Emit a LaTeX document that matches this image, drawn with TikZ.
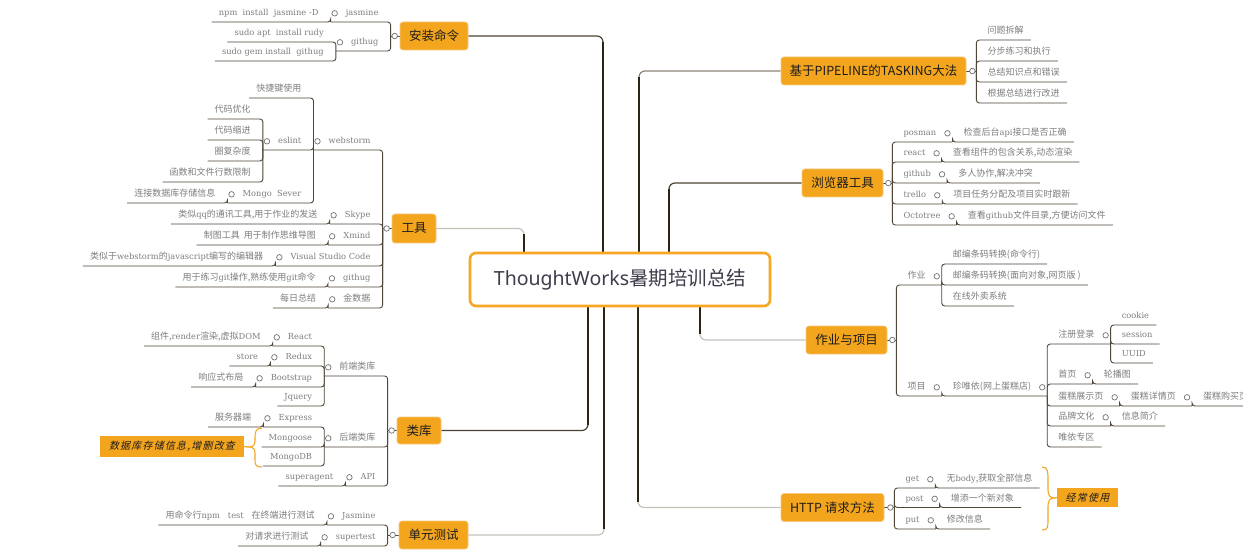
\documentclass[tikz,border=0pt]{standalone}
\usepackage{fontspec}
\setmainfont{DejaVu Serif}
\newfontfamily\cjk{Noto Sans CJK SC}
\newfontfamily\cjkit[FakeSlant=0.22,LetterSpace=12]{Noto Sans CJK SC}
\newfontfamily\latsans{Noto Sans}
\definecolor{orng}{HTML}{F4A51E}
\definecolor{orngedge}{HTML}{F9C77A}
\definecolor{orngline}{HTML}{F5A623}
\definecolor{trunkc}{HTML}{2B2417}
\definecolor{darkh}{HTML}{4B4434}
\definecolor{midh}{HTML}{8B8577}
\definecolor{lighth}{HTML}{C6C2BC}
\definecolor{subline}{HTML}{4E4637}
\definecolor{subtext}{HTML}{7E7E7E}
\definecolor{ctext}{HTML}{3D3D4C}
\definecolor{ttext}{HTML}{1C1C1C}
\pgfdeclarelayer{bg}
\pgfsetlayers{bg,main}
\newcommand\zh[1]{{\cjk\fontsize{9}{10}\selectfont #1}}
\newcommand\Lc[2]{\draw[sconn] (#1) |- (#2.south west);}
\newcommand\Rc[2]{\draw[sconn] (#1) |- (#2.south east);}
\newcommand\lknob[1]{\node[knob] (k-#1) at ([xshift=4pt]#1.west) {};}
\newcommand\rknob[1]{\node[knob] (k-#1) at ([xshift=-5pt]#1.east) {};}
\tikzset{
  subt/.style={font=\fontsize{8.3}{10}\selectfont, text=subtext, inner xsep=0pt, inner ysep=3.5pt, text height=7.5pt, text depth=2.5pt},
  lleaf/.style={subt, anchor=south east, execute at begin node={\hspace*{7pt}}, execute at end node={\hspace*{12pt}}},
  lint/.style={subt, anchor=south east, execute at begin node={\hspace*{15pt}}, execute at end node={\hspace*{12pt}}},
  rleaf/.style={subt, anchor=south west, execute at begin node={\hspace*{11pt}}, execute at end node={\hspace*{7pt}}},
  rint/.style={subt, anchor=south west, execute at begin node={\hspace*{11pt}}, execute at end node={\hspace*{16pt}}},
  topic/.style={fill=orng, draw=orngedge, line width=0.7pt, rounded corners=3pt, text=ttext, font=\cjk\fontsize{12.5}{14}\selectfont, minimum height=28pt, inner sep=0pt},
  centre/.style={fill=white, draw=orngline, line width=2.6pt, rounded corners=6pt, text=ctext, font=\fontsize{19.5}{22}\selectfont, minimum width=300pt, minimum height=53pt, inner sep=0pt},
  summ/.style={fill=orng, text=ttext, font=\cjkit\fontsize{10}{12}\selectfont, inner sep=0pt},
  knob/.style={circle, draw=black!55, fill=white, line width=0.7pt, minimum size=5.5pt, inner sep=0pt},
  sconn/.style={draw=subline, line width=0.9pt, rounded corners=3pt},
  hconn/.style={line width=1.2pt, rounded corners=6pt},
  trunk/.style={draw=trunkc, line width=2.6pt, shorten >=6pt},
  bracec/.style={draw=orngline, line width=1.1pt},
}
\begin{document}
\begin{tikzpicture}[x=1pt,y=-1pt]
\useasboundingbox (0,0) rectangle (1243,556);
\begin{pgfonlayer}{bg}
\fill[white] (0,0) rectangle (1243,556);
\end{pgfonlayer}

% centre
\node[centre] (c) at (620,279.5) {{\latsans ThoughtWorks}{\cjk 暑期培训总结}};

% ===== 安装命令 =====
\node[topic, minimum width=68pt] (az) at (434,36) {安装命令};
\coordinate (azJ) at ([xshift=-9pt]az.west);
\node[lint] (jas) at (azJ |- 0,22) {jasmine};
\node[lleaf] (jas1) at (jas.south west) {npm\ \ install\ \ jasmine -D};
\node[lint] (gha) at (azJ |- 0,51) {githug};
\node[lleaf] (gha1) at (gha.south west |- 0,42) {sudo apt\ \ install rudy};
\node[lleaf] (gha2) at (gha.south west |- 0,61) {sudo gem install\ \ githug};

% ===== 工具 =====
\node[topic, minimum width=44pt, minimum height=29pt] (gj) at (414,228.5) {工具};
\coordinate (gjJ) at ([xshift=-9pt]gj.west);
\node[lint] (ws) at (gjJ |- 0,150) {webstorm};
\node[lleaf] (kj) at (ws.south west |- 0,98) {\zh{快捷键使用}};
\node[lint] (es) at (ws.south west |- 0,150) {eslint};
\node[lleaf] (es1) at (es.south west |- 0,119) {\zh{代码优化}};
\node[lleaf] (es2) at (es.south west |- 0,140) {\zh{代码缩进}};
\node[lleaf] (es3) at (es.south west |- 0,161) {\zh{圈复杂度}};
\node[lleaf] (es4) at (es.south west |- 0,182) {\zh{函数和文件行数限制}};
\node[lint] (mg) at (ws.south west |- 0,203) {Mongo\ \ Sever};
\node[lleaf] (mg1) at (mg.south west) {\zh{连接数据库存储信息}};
\node[lint] (sk) at (gjJ |- 0,224) {Skype};
\node[lleaf] (sk1) at (sk.south west) {\zh{类似}qq\zh{的通讯工具,用于作业的发送}};
\node[lint] (xm) at (gjJ |- 0,245) {Xmind};
\node[lleaf] (xm1) at (xm.south west) {\zh{制图工具\ \ 用于制作思维导图}};
\node[lint] (vs) at (gjJ |- 0,266) {Visual Studio Code};
\node[lleaf] (vs1) at (vs.south west) {\zh{类似于}webstorm\zh{的}javascript\zh{编写的编辑器}};
\node[lint] (ghb) at (gjJ |- 0,287) {githug};
\node[lleaf] (ghb1) at (ghb.south west) {\zh{用于练习}git\zh{操作,熟练使用}git\zh{命令}};
\node[lint] (jsj) at (gjJ |- 0,308) {\zh{金数据}};
\node[lleaf] (jsj1) at (jsj.south west) {\zh{每日总结}};

% ===== 类库 =====
\node[topic, minimum width=44pt, minimum height=27pt] (lk) at (419,430.5) {类库};
\coordinate (lkJ) at ([xshift=-9pt]lk.west);
\node[lint] (qd) at (lkJ |- 0,376) {\zh{前端类库}};
\node[lint] (re) at (qd.south west |- 0,346) {React};
\node[lleaf] (re1) at (re.south west) {\zh{组件,}render\zh{渲染,虚拟}DOM};
\node[lint] (rd) at (qd.south west |- 0,366) {Redux};
\node[lleaf] (rd1) at (rd.south west) {store};
\node[lint] (bs) at (qd.south west |- 0,387) {Bootstrap};
\node[lleaf] (bs1) at (bs.south west) {\zh{响应式布局}};
\node[lleaf] (jq) at (qd.south west |- 0,406) {Jquery};
\node[lint] (hd) at (lkJ |- 0,447) {\zh{后端类库}};
\node[lint] (ex) at (hd.south west |- 0,427) {Express};
\node[lleaf] (ex1) at (ex.south west) {\zh{服务器端}};
\node[lleaf] (mgs) at (hd.south west |- 0,447) {Mongoose};
\node[lleaf] (mdb) at (hd.south west |- 0,466) {MongoDB};
\node[lint] (api) at (lkJ |- 0,486) {API};
\node[lleaf] (api1) at (api.south west) {superagent};
\node[summ, minimum width=144pt, minimum height=21pt] (s1) at (172,446.5) {数据库存储信息,增删改查};

% ===== 单元测试 =====
\node[topic, minimum width=69pt] (dy) at (433.5,535) {单元测试};
\coordinate (dyJ) at ([xshift=-11pt]dy.west);
\node[lint] (jm) at (dyJ |- 0,525) {Jasmine};
\node[lleaf] (jm1) at (jm.south west) {\zh{用命令行}npm\ \ \ test\ \ \ \zh{在终端进行测试}};
\node[lint] (st) at (dyJ |- 0,546) {supertest};
\node[lleaf] (st1) at (st.south west) {\zh{对请求进行测试}};

% ===== PIPELINE =====
\node[topic, minimum width=185pt] (pp) at (873.5,71) {基于PIPELINE的TASKING大法};
\coordinate (ppJ) at ([xshift=10pt]pp.east);
\node[rleaf] (pp1) at (ppJ |- 0,40) {\zh{问题拆解}};
\node[rleaf] (pp2) at (ppJ |- 0,61) {\zh{分步练习和执行}};
\node[rleaf] (pp3) at (ppJ |- 0,82) {\zh{总结知识点和错误}};
\node[rleaf] (pp4) at (ppJ |- 0,103) {\zh{根据总结进行改进}};

% ===== 浏览器工具 =====
\node[topic, minimum width=81pt] (bl) at (842.5,183) {浏览器工具};
\coordinate (blJ) at ([xshift=9pt]bl.east);
\node[rint] (po) at (blJ |- 0,142) {posman};
\node[rleaf] (po1) at (po.south east) {\zh{检查后台}api\zh{接口是否正确}};
\node[rint] (rc) at (blJ |- 0,162) {react};
\node[rleaf] (rc1) at (rc.south east) {\zh{查看组件的包含关系,动态渲染}};
\node[rint] (gc) at (blJ |- 0,183) {github};
\node[rleaf] (gc1) at (gc.south east) {\zh{多人协作,解决冲突}};
\node[rint] (tr) at (blJ |- 0,204) {trello};
\node[rleaf] (tr1) at (tr.south east) {\zh{项目任务分配及项目实时跟新}};
\node[rint] (oc) at (blJ |- 0,225) {Octotree};
\node[rleaf] (oc1) at (oc.south east) {\zh{查看}github\zh{文件目录,方便访问文件}};

% ===== 作业与项目 =====
\node[topic, minimum width=81pt] (zx) at (846.5,340) {作业与项目};
\coordinate (zxJ) at ([xshift=9pt]zx.east);
\node[rint] (zy) at (zxJ |- 0,285) {\zh{作业}};
\node[rleaf] (zy1) at (zy.south east |- 0,264) {\zh{邮编条码转换(命令行)}};
\node[rleaf] (zy2) at (zy.south east |- 0,285) {\zh{邮编条码转换(面向对象,网页版 )}};
\node[rleaf] (zy3) at (zy.south east |- 0,306) {\zh{在线外卖系统}};
\node[rint] (xmu) at (zxJ |- 0,396) {\zh{项目}};
\node[rint] (zw) at (xmu.south east) {\zh{珍唯依(网上蛋糕店)}};
\node[rint] (zc) at (zw.south east |- 0,344) {\zh{注册登录}};
\node[rleaf] (zc1) at (zc.south east |- 0,325) {cookie};
\node[rleaf] (zc2) at (zc.south east |- 0,344) {session};
\node[rleaf] (zc3) at (zc.south east |- 0,363) {UUID};
\node[rint] (sy) at (zw.south east |- 0,384) {\zh{首页}};
\node[rleaf] (sy1) at (sy.south east) {\zh{轮播图}};
\node[rint] (dz) at (zw.south east |- 0,406) {\zh{蛋糕展示页}};
\node[rint] (dx) at (dz.south east) {\zh{蛋糕详情页}};
\node[rleaf] (dg) at (dx.south east) {\zh{蛋糕购买页}};
\node[rint] (pw) at (zw.south east |- 0,426) {\zh{品牌文化}};
\node[rleaf] (pw1) at (pw.south east) {\zh{信息简介}};
\node[rleaf] (wy) at (zw.south east |- 0,447) {\zh{唯依专区}};

% ===== HTTP =====
\node[topic, minimum width=103pt] (ht) at (832.5,507.5) {HTTP 请求方法};
\coordinate (htJ) at ([xshift=10pt]ht.east);
\node[rint] (ge) at (htJ |- 0,488) {get};
\node[rleaf] (ge1) at (ge.south east) {\zh{无}body\zh{,获取全部信息}};
\node[rint] (ps) at (htJ |- 0,507.5) {post};
\node[rleaf] (ps1) at (ps.south east) {\zh{增添一个新对象}};
\node[rint] (pu) at (htJ |- 0,529) {put};
\node[rleaf] (pu1) at (pu.south east) {\zh{修改信息}};
\node[summ, minimum width=61pt, minimum height=19pt] (s2) at (1087.5,497.5) {经常使用};

% ===== connectors =====
\begin{pgfonlayer}{bg}
\coordinate (t1) at ([xshift=-17pt]c.north);
\coordinate (t2) at ([xshift=-96pt]c.north);
\coordinate (t3) at ([xshift=19pt]c.north);
\coordinate (t4) at ([xshift=49pt]c.north);
\coordinate (t5) at ([xshift=80pt]c.south);
\coordinate (t6) at ([xshift=-32pt]c.south);
\coordinate (t7) at ([xshift=-16pt]c.south);
\coordinate (t8) at ([xshift=18pt]c.south);
\draw[hconn, draw=darkh] (t1) |- (az.east);
\draw[hconn, draw=lighth] (t2) |- (gj.east);
\draw[hconn, draw=midh] (t3) |- (pp.west);
\draw[hconn, draw=darkh] (t4) |- (bl.west);
\draw[hconn, draw=lighth] (t5) |- (zx.west);
\draw[hconn, draw=darkh] (t6) |- (lk.east);
\draw[hconn, draw=lighth] (t7) |- (dy.east);
\draw[hconn, draw=lighth] (t8) |- (ht.west);
\draw[trunk] (t1) -- (t1 |- az.east);
\draw[trunk] (t2) -- (t2 |- gj.east);
\draw[trunk] (t3) -- (t3 |- pp.west);
\draw[trunk] (t4) -- (t4 |- bl.west);
\draw[trunk] (t5) -- (t5 |- zx.west);
\draw[trunk] (t6) -- (t6 |- lk.east);
\draw[trunk] (t7) -- (t7 |- dy.east);
\draw[trunk] (t8) -- (t8 |- ht.west);
\draw[sconn] (azJ) -- (az.west);
\draw[sconn] (gjJ) -- (gj.west);
\draw[sconn] (lkJ) -- (lk.west);
\draw[sconn] (dyJ) -- (dy.west);
\draw[sconn] (ppJ) -- (pp.east);
\draw[sconn] (blJ) -- (bl.east);
\draw[sconn] (zxJ) -- (zx.east);
\draw[sconn] (htJ) -- (ht.east);
\Lc{azJ}{jas} \Lc{jas.south west}{jas1}
\Lc{azJ}{gha} \Lc{gha.south west}{gha1} \Lc{gha.south west}{gha2}
\Lc{gjJ}{ws} \Lc{ws.south west}{kj} \Lc{ws.south west}{es} \Lc{ws.south west}{mg}
\Lc{es.south west}{es1} \Lc{es.south west}{es2} \Lc{es.south west}{es3} \Lc{es.south west}{es4}
\Lc{mg.south west}{mg1}
\Lc{gjJ}{sk} \Lc{sk.south west}{sk1}
\Lc{gjJ}{xm} \Lc{xm.south west}{xm1}
\Lc{gjJ}{vs} \Lc{vs.south west}{vs1}
\Lc{gjJ}{ghb} \Lc{ghb.south west}{ghb1}
\Lc{gjJ}{jsj} \Lc{jsj.south west}{jsj1}
\Lc{lkJ}{qd} \Lc{qd.south west}{re} \Lc{qd.south west}{rd} \Lc{qd.south west}{bs} \Lc{qd.south west}{jq}
\Lc{re.south west}{re1} \Lc{rd.south west}{rd1} \Lc{bs.south west}{bs1}
\Lc{lkJ}{hd} \Lc{hd.south west}{ex} \Lc{hd.south west}{mgs} \Lc{hd.south west}{mdb}
\Lc{ex.south west}{ex1}
\Lc{lkJ}{api} \Lc{api.south west}{api1}
\Lc{dyJ}{jm} \Lc{jm.south west}{jm1}
\Lc{dyJ}{st} \Lc{st.south west}{st1}
\Rc{ppJ}{pp1} \Rc{ppJ}{pp2} \Rc{ppJ}{pp3} \Rc{ppJ}{pp4}
\Rc{blJ}{po} \Rc{po.south east}{po1}
\Rc{blJ}{rc} \Rc{rc.south east}{rc1}
\Rc{blJ}{gc} \Rc{gc.south east}{gc1}
\Rc{blJ}{tr} \Rc{tr.south east}{tr1}
\Rc{blJ}{oc} \Rc{oc.south east}{oc1}
\Rc{zxJ}{zy} \Rc{zy.south east}{zy1} \Rc{zy.south east}{zy2} \Rc{zy.south east}{zy3}
\Rc{zxJ}{xmu} \Rc{xmu.south east}{zw}
\Rc{zw.south east}{zc} \Rc{zc.south east}{zc1} \Rc{zc.south east}{zc2} \Rc{zc.south east}{zc3}
\Rc{zw.south east}{sy} \Rc{sy.south east}{sy1}
\Rc{zw.south east}{dz} \Rc{dz.south east}{dx} \Rc{dx.south east}{dg}
\Rc{zw.south east}{pw} \Rc{pw.south east}{pw1}
\Rc{zw.south east}{wy}
\Rc{htJ}{ge} \Rc{ge.south east}{ge1}
\Rc{htJ}{ps} \Rc{ps.south east}{ps1}
\Rc{htJ}{pu} \Rc{pu.south east}{pu1}
\coordinate (b1) at (249,447);
\draw[bracec] (262,428) .. controls (256,428) and (255,432) .. (255,437) -- (255,441)
  .. controls (255,445) and (253,447) .. (b1)
  .. controls (253,447) and (255,449) .. (255,453) -- (255,460)
  .. controls (255,465) and (256,467) .. (262,467);
\draw[bracec] (b1) -- (s1.east);
\coordinate (b2) at (1054,498);
\draw[bracec] (1042,467) .. controls (1048,467) and (1048,472) .. (1048,480) -- (1048,490)
  .. controls (1048,495) and (1050,498) .. (b2)
  .. controls (1050,498) and (1048,501) .. (1048,506) -- (1048,519)
  .. controls (1048,527) and (1048,530) .. (1042,530);
\draw[bracec] (b2) -- (s2.west);
\end{pgfonlayer}

\node[knob] (k-az) at ([xshift=4pt]azJ) {};
\node[knob] (k-gj) at ([xshift=4pt]gjJ) {};
\node[knob] (k-lk) at ([xshift=4pt]lkJ) {};
\node[knob] (k-dy) at ([xshift=5pt]dyJ) {};
\node[knob] (k-pp) at ([xshift=-4pt]ppJ) {};
\node[knob] (k-bl) at ([xshift=-4pt]blJ) {};
\node[knob] (k-zx) at ([xshift=-4pt]zxJ) {};
\node[knob] (k-ht) at ([xshift=-4pt]htJ) {};
\lknob{jas} \lknob{gha}
\lknob{ws} \lknob{es} \lknob{mg} \lknob{sk} \lknob{xm} \lknob{vs} \lknob{ghb} \lknob{jsj}
\lknob{qd} \lknob{re} \lknob{rd} \lknob{bs} \lknob{hd} \lknob{ex} \lknob{api}
\lknob{jm} \lknob{st}
\rknob{po} \rknob{rc} \rknob{gc} \rknob{tr} \rknob{oc}
\rknob{zy} \rknob{xmu} \rknob{zw} \rknob{zc} \rknob{sy} \rknob{dz} \rknob{dx} \rknob{pw}
\rknob{ge} \rknob{ps} \rknob{pu}
\end{tikzpicture}
\end{document}
